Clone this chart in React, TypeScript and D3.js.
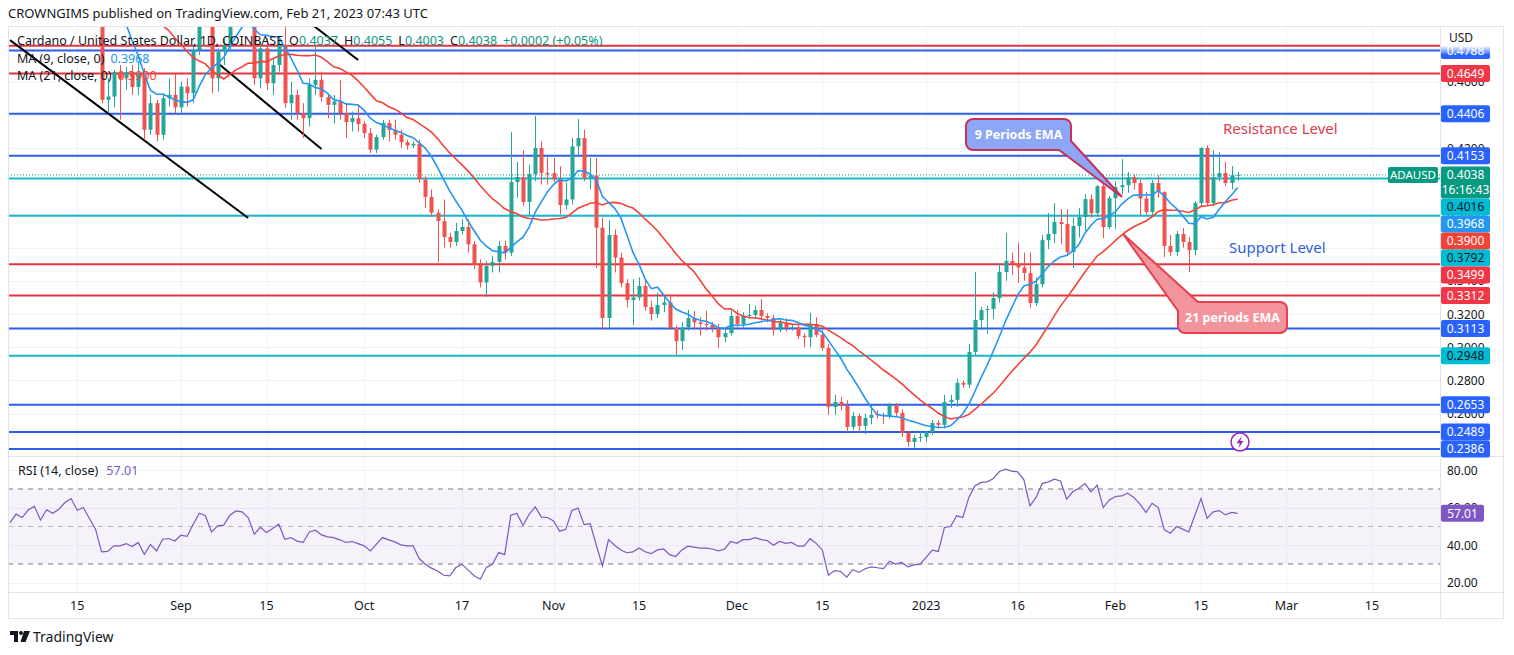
import * as d3 from 'd3';

const DAY = 86400000;
const FIRST_DAY = Date.UTC(2022, 7, 4);

// daily candles Aug 4 2022 .. Feb 21 2023 : [open, high, low, close]
const OHLC: [number, number, number, number][] = [
  // Aug
  [0.507, 0.515, 0.496, 0.503], [0.503, 0.525, 0.5, 0.518], [0.518, 0.522, 0.505, 0.508], [0.508, 0.52, 0.5, 0.513],
  [0.513, 0.545, 0.51, 0.53], [0.53, 0.535, 0.51, 0.515], [0.515, 0.545, 0.505, 0.54], [0.54, 0.56, 0.53, 0.535],
  [0.535, 0.55, 0.525, 0.545], [0.545, 0.565, 0.54, 0.555], [0.555, 0.575, 0.545, 0.55], [0.55, 0.565, 0.53, 0.545],
  [0.545, 0.56, 0.535, 0.548], [0.548, 0.56, 0.52, 0.53], [0.53, 0.54, 0.52, 0.535],
  [0.535, 0.537, 0.447, 0.449], [0.449, 0.462, 0.4416, 0.451], [0.451, 0.467, 0.4445, 0.4657], [0.4657, 0.47, 0.437, 0.462],
  [0.462, 0.469, 0.455, 0.4657], [0.4657, 0.47, 0.452, 0.4567], [0.4567, 0.472, 0.452, 0.465], [0.465, 0.468, 0.425, 0.431],
  [0.431, 0.452, 0.428, 0.447], [0.447, 0.449, 0.424, 0.428], [0.428, 0.453, 0.425, 0.45], [0.45, 0.462, 0.445, 0.452],
  [0.452, 0.465, 0.441, 0.4445],
  // Sep
  [0.4445, 0.46, 0.44, 0.457], [0.457, 0.462, 0.445, 0.453], [0.453, 0.482, 0.447, 0.479], [0.479, 0.51, 0.476, 0.505],
  [0.505, 0.52, 0.497, 0.51], [0.51, 0.515, 0.453, 0.462], [0.462, 0.48, 0.454, 0.478], [0.478, 0.486, 0.47, 0.482],
  [0.482, 0.51, 0.478, 0.505], [0.505, 0.52, 0.499, 0.51], [0.51, 0.518, 0.5, 0.505], [0.505, 0.515, 0.498, 0.51],
  [0.51, 0.514, 0.458, 0.462], [0.462, 0.484, 0.456, 0.48], [0.48, 0.486, 0.455, 0.459], [0.459, 0.474, 0.452, 0.47],
  [0.47, 0.486, 0.466, 0.482], [0.482, 0.497, 0.444, 0.447], [0.447, 0.46, 0.437, 0.452], [0.452, 0.455, 0.437, 0.441],
  [0.441, 0.447, 0.426, 0.438], [0.438, 0.462, 0.433, 0.458], [0.458, 0.482, 0.452, 0.461], [0.461, 0.466, 0.448, 0.4507],
  [0.4507, 0.452, 0.438, 0.446], [0.446, 0.452, 0.435, 0.448], [0.448, 0.461, 0.437, 0.441], [0.441, 0.447, 0.426, 0.4356],
  [0.4356, 0.442, 0.43, 0.438], [0.438, 0.446, 0.43, 0.4345],
  // Oct
  [0.4345, 0.436, 0.426, 0.429], [0.429, 0.432, 0.417, 0.419], [0.419, 0.428, 0.417, 0.4266], [0.4266, 0.437, 0.425, 0.435],
  [0.435, 0.437, 0.424, 0.431], [0.431, 0.437, 0.425, 0.428], [0.428, 0.431, 0.42, 0.4235], [0.4235, 0.425, 0.419, 0.4215],
  [0.4215, 0.424, 0.42, 0.4225], [0.4225, 0.425, 0.399, 0.401], [0.401, 0.403, 0.384, 0.3905], [0.3905, 0.395, 0.3785, 0.381],
  [0.381, 0.383, 0.351, 0.376], [0.376, 0.389, 0.36, 0.3664], [0.3664, 0.369, 0.36, 0.3634], [0.3634, 0.3748, 0.361, 0.37],
  [0.37, 0.377, 0.368, 0.3724], [0.3724, 0.377, 0.357, 0.362], [0.362, 0.364, 0.347, 0.3495], [0.3495, 0.353, 0.336, 0.339],
  [0.339, 0.352, 0.3302, 0.349], [0.349, 0.355, 0.345, 0.3514], [0.3514, 0.364, 0.345, 0.361], [0.361, 0.364, 0.353, 0.357],
  [0.357, 0.4296, 0.355, 0.3995], [0.3995, 0.4115, 0.39, 0.4025], [0.4025, 0.4187, 0.385, 0.3875], [0.3875, 0.41, 0.3796, 0.4043],
  [0.4043, 0.4393, 0.4, 0.42], [0.42, 0.424, 0.398, 0.405], [0.405, 0.4145, 0.398, 0.4049],
  // Nov
  [0.4049, 0.414, 0.3995, 0.401], [0.401, 0.409, 0.38, 0.3856], [0.3856, 0.399, 0.383, 0.389], [0.389, 0.426, 0.386, 0.421],
  [0.421, 0.4374, 0.416, 0.426], [0.426, 0.431, 0.4, 0.402], [0.402, 0.414, 0.395, 0.4035], [0.4035, 0.414, 0.3477, 0.372],
  [0.372, 0.378, 0.3104, 0.3176], [0.3176, 0.3766, 0.3116, 0.3676], [0.3676, 0.371, 0.345, 0.354], [0.354, 0.357, 0.336, 0.3386],
  [0.3386, 0.341, 0.324, 0.3284], [0.3284, 0.341, 0.3134, 0.33], [0.33, 0.342, 0.328, 0.3369], [0.3369, 0.3405, 0.322, 0.3242],
  [0.3242, 0.328, 0.316, 0.32], [0.32, 0.333, 0.3175, 0.3254], [0.3254, 0.331, 0.321, 0.327], [0.327, 0.331, 0.3104, 0.3116],
  [0.3116, 0.313, 0.2953, 0.3037], [0.3037, 0.315, 0.2983, 0.312], [0.312, 0.3225, 0.31, 0.3176], [0.3176, 0.322, 0.3105, 0.315],
  [0.315, 0.318, 0.307, 0.314], [0.314, 0.322, 0.31, 0.3134], [0.3134, 0.315, 0.309, 0.3116], [0.3116, 0.314, 0.2996, 0.306],
  [0.306, 0.311, 0.303, 0.3085], [0.3085, 0.322, 0.307, 0.3188],
  // Dec
  [0.3188, 0.3225, 0.312, 0.314], [0.314, 0.321, 0.312, 0.3188], [0.3188, 0.326, 0.317, 0.3194], [0.3194, 0.325, 0.317, 0.3224],
  [0.3224, 0.329, 0.316, 0.3188], [0.3188, 0.3205, 0.315, 0.3176], [0.3176, 0.3195, 0.307, 0.3104], [0.3104, 0.3165, 0.309, 0.3146],
  [0.3146, 0.3175, 0.3095, 0.3116], [0.3116, 0.3135, 0.31, 0.312], [0.312, 0.314, 0.305, 0.3067], [0.3067, 0.3085, 0.3, 0.306],
  [0.306, 0.3206, 0.3, 0.314], [0.314, 0.318, 0.306, 0.3074], [0.3074, 0.3104, 0.298, 0.2995], [0.2995, 0.302, 0.2592, 0.264],
  [0.264, 0.2713, 0.2592, 0.267], [0.267, 0.27, 0.262, 0.2646], [0.2646, 0.268, 0.2489, 0.252], [0.252, 0.261, 0.25, 0.2586],
  [0.2586, 0.26, 0.2483, 0.2526], [0.2526, 0.26, 0.2475, 0.2574], [0.2574, 0.2652, 0.2535, 0.2592], [0.2598, 0.262, 0.257, 0.259],
  [0.259, 0.2605, 0.2538, 0.2584], [0.2584, 0.2665, 0.257, 0.2652], [0.2652, 0.2664, 0.258, 0.2604], [0.2604, 0.2625, 0.246, 0.2483],
  [0.2483, 0.2495, 0.24, 0.2429], [0.2429, 0.247, 0.2393, 0.2453], [0.2453, 0.2495, 0.243, 0.2459],
  // Jan
  [0.2459, 0.2495, 0.243, 0.2489], [0.2489, 0.256, 0.247, 0.2544], [0.2544, 0.256, 0.251, 0.2532], [0.2532, 0.2713, 0.251, 0.267],
  [0.267, 0.2713, 0.2635, 0.2683], [0.2683, 0.281, 0.264, 0.2785], [0.2785, 0.28, 0.2755, 0.2774], [0.2774, 0.302, 0.2755, 0.2971],
  [0.2971, 0.3453, 0.295, 0.3164], [0.3164, 0.3242, 0.3104, 0.3224], [0.3224, 0.325, 0.308, 0.323], [0.323, 0.333, 0.317, 0.3296],
  [0.3296, 0.3507, 0.327, 0.3453], [0.3453, 0.3688, 0.34, 0.352], [0.352, 0.357, 0.3435, 0.3501], [0.3501, 0.363, 0.3387, 0.348],
  [0.348, 0.357, 0.34, 0.3447], [0.3447, 0.357, 0.3236, 0.3266], [0.3266, 0.342, 0.3248, 0.338], [0.338, 0.3676, 0.336, 0.3645],
  [0.3645, 0.3808, 0.359, 0.3682], [0.3682, 0.3868, 0.3628, 0.3754], [0.3754, 0.3832, 0.362, 0.3742], [0.3742, 0.383, 0.355, 0.3573],
  [0.3573, 0.378, 0.3477, 0.373], [0.373, 0.3838, 0.366, 0.3784], [0.3784, 0.3922, 0.37, 0.3892], [0.3892, 0.392, 0.378, 0.3808],
  [0.3808, 0.3977, 0.3785, 0.397], [0.397, 0.399, 0.3658, 0.3724], [0.3724, 0.391, 0.3712, 0.3898],
  // Feb
  [0.3898, 0.4, 0.3712, 0.3964], [0.3964, 0.4133, 0.392, 0.3976], [0.3976, 0.4055, 0.393, 0.4025], [0.4025, 0.404, 0.395, 0.3989],
  [0.3989, 0.401, 0.3796, 0.3895], [0.3895, 0.3937, 0.38, 0.3814], [0.3814, 0.4005, 0.379, 0.3989], [0.3989, 0.4037, 0.39, 0.3934],
  [0.3934, 0.394, 0.3543, 0.361], [0.361, 0.3676, 0.355, 0.3573], [0.3573, 0.37, 0.355, 0.3682], [0.3682, 0.3718, 0.36, 0.3634],
  [0.3634, 0.3665, 0.3453, 0.3585], [0.3585, 0.388, 0.3555, 0.3868], [0.3868, 0.4205, 0.385, 0.42], [0.42, 0.4217, 0.385, 0.3868],
  [0.3868, 0.4186, 0.385, 0.4025], [0.4025, 0.4175, 0.4, 0.4049], [0.4049, 0.4115, 0.397, 0.3989], [0.3989, 0.4091, 0.395, 0.4036],
  [0.4037, 0.4055, 0.4003, 0.4038],
];

const RSI14 = [
  52.1, 56.6, 54.8, 58.9, 60.7, 53.5, 58.9, 57.1, 59.2, 62.8, 64.9, 58.7, 60.1, 54.3, 48.6,
  36.5, 36.7, 39.7, 39.7, 40.9, 39.3, 41.5, 35.2, 40.4, 37.0, 43.2, 43.6, 42.3,
  45.4, 44.7, 51.2, 57.1, 55.7, 47.1, 50.3, 50.7, 56.0, 58.3, 57.8, 54.8, 45.9, 49.6, 46.8,
  48.9, 51.2, 43.2, 44.1, 42.2, 41.5, 47.1, 48.0, 45.5, 44.5, 44.1, 42.9, 41.5, 42.0, 40.9,
  39.7, 37.0, 40.6, 44.1, 42.9, 41.8, 40.2, 39.7, 39.7, 32.9, 29.9, 27.8, 26.3, 24.0, 23.7, 28.1,
  29.9, 26.7, 23.7, 21.9, 28.1, 29.9, 36.1, 35.0, 56.0, 57.0, 50.5, 56.5, 60.5, 55.0, 54.8,
  53.0, 47.5, 48.5, 58.5, 59.8, 51.0, 51.5, 40.0, 29.0, 43.0, 40.0, 37.5, 36.0, 36.5, 38.5,
  36.5, 35.5, 37.5, 38.0, 35.0, 34.0, 37.5, 39.5, 39.0, 38.5, 38.5, 38.0, 37.0, 38.0, 42.0,
  41.0, 43.0, 43.0, 44.0, 43.0, 42.5, 40.0, 42.0, 41.0, 41.5, 39.5, 39.5, 43.5, 41.0, 37.5, 24.0,
  26.5, 26.0, 23.0, 27.0, 25.5, 27.5, 28.5, 28.0, 27.5, 31.5, 30.0, 30.8, 28.5, 29.5, 29.9,
  33.5, 37.4, 36.7, 49.5, 50.0, 55.7, 54.8, 65.5, 71.7, 73.5, 73.8, 75.6, 79.3, 80.6, 79.5, 79.1,
  74.9, 61.0, 65.5, 72.9, 73.8, 75.2, 74.3, 64.6, 68.5, 70.4, 72.9, 68.5, 72.0, 60.1, 64.2,
  66.0, 66.3, 67.8, 65.5, 61.9, 57.5, 62.4, 60.1, 48.2, 46.4, 50.0, 48.6, 47.1, 56.0, 64.9,
  54.3, 57.8, 58.5, 56.2, 57.5, 57.0,
];

const RED_LEVELS = [0.4816, 0.4649, 0.3499, 0.3312];
const BLUE_LEVELS = [0.4788, 0.4406, 0.4153, 0.3113, 0.2653, 0.2489, 0.2386];
const CYAN_LEVELS = [0.4016, 0.3792, 0.2948];

const PRICE_TICKS = [0.26, 0.28, 0.3, 0.32, 0.34, 0.36, 0.38, 0.4, 0.42, 0.44, 0.46, 0.48];
const RSI_TICKS = [20, 40, 60, 80];

const TIME_TICKS: [number, string][] = [
  [Date.UTC(2022, 7, 15), '15'], [Date.UTC(2022, 8, 1), 'Sep'], [Date.UTC(2022, 8, 15), '15'],
  [Date.UTC(2022, 9, 1), 'Oct'], [Date.UTC(2022, 9, 17), '17'], [Date.UTC(2022, 10, 1), 'Nov'],
  [Date.UTC(2022, 10, 15), '15'], [Date.UTC(2022, 11, 1), 'Dec'], [Date.UTC(2022, 11, 15), '15'],
  [Date.UTC(2023, 0, 1), '2023'], [Date.UTC(2023, 0, 16), '16'], [Date.UTC(2023, 1, 1), 'Feb'],
  [Date.UTC(2023, 1, 15), '15'], [Date.UTC(2023, 2, 1), 'Mar'], [Date.UTC(2023, 2, 15), '15'],
];

// hand-drawn trend lines: [date, price] -> [date, price]
const TREND_LINES: [number, number][][] = [
  [[Date.UTC(2022, 7, 4), 0.485], [Date.UTC(2022, 8, 12), 0.3778]],
  [[Date.UTC(2022, 8, 7), 0.4712], [Date.UTC(2022, 8, 24), 0.4194]],
  [[Date.UTC(2022, 8, 21), 0.4985], [Date.UTC(2022, 8, 30), 0.473]],
];

const AXIS_TAGS = [
  { value: 0.4788, text: '0.4788', bg: '#2962ff', fg: '#ffffff' },
  { value: 0.4649, text: '0.4649', bg: '#f23645', fg: '#ffffff' },
  { value: 0.4406, text: '0.4406', bg: '#2962ff', fg: '#ffffff' },
  { value: 0.4153, text: '0.4153', bg: '#2962ff', fg: '#ffffff' },
  { value: 0.4038, text: '0.4038', sub: '16:16:43', bg: '#089981', fg: '#ffffff' },
  { value: 0.4016, text: '0.4016', bg: '#00bcd4', fg: '#131722' },
  { value: 0.3968, text: '0.3968', bg: '#2196f3', fg: '#ffffff' },
  { value: 0.39, text: '0.3900', bg: '#f44336', fg: '#ffffff' },
  { value: 0.3792, text: '0.3792', bg: '#00bcd4', fg: '#131722' },
  { value: 0.3499, text: '0.3499', bg: '#f23645', fg: '#ffffff' },
  { value: 0.3312, text: '0.3312', bg: '#f23645', fg: '#ffffff' },
  { value: 0.3113, text: '0.3113', bg: '#2962ff', fg: '#ffffff' },
  { value: 0.2948, text: '0.2948', bg: '#00bcd4', fg: '#131722' },
  { value: 0.2653, text: '0.2653', bg: '#2962ff', fg: '#ffffff' },
  { value: 0.2489, text: '0.2489', bg: '#2962ff', fg: '#ffffff' },
  { value: 0.2386, text: '0.2386', bg: '#2962ff', fg: '#ffffff' },
];

const FONT = "'Noto Sans', 'Open Sans', sans-serif";
const UP = '#26a69a';
const DOWN = '#ef5350';
const TEXT = '#131722';

function sma(values: number[], n: number) {
  return values.map((_, i) => (i < n - 1 ? null : d3.mean(values.slice(i - n + 1, i + 1)) as number));
}

export default function App() {
  const W = 1514;
  const H = 655;
  const left = 8, right = 1440, top = 27, mainBottom = 456, rsiTop = 457, rsiBottom = 592;

  const dates = OHLC.map((_, i) => new Date(FIRST_DAY + i * DAY));
  const x = d3.scaleUtc()
    .domain([new Date(Date.UTC(2022, 8, 1)), new Date(Date.UTC(2023, 2, 15))])
    .range([181, 1372]);
  const y = d3.scaleLinear().domain([0.32, 0.42]).range([314, 148]);
  const ry = d3.scaleLinear().domain([30, 70]).range([564, 489]);

  const closes = OHLC.map(d => d[3]);
  const ma9 = sma(closes, 9);
  const ma21 = sma(closes, 21);

  const maLine = d3.line<number | null>()
    .defined(d => d != null)
    .x((_, i) => x(dates[i]))
    .y(d => y(d as number));
  const rsiLine = d3.line<number>().x((_, i) => x(dates[i])).y(d => ry(d));

  // price tags pushed down so they don't overlap
  let prevBottom = -Infinity;
  const tags = [...AXIS_TAGS].sort((a, b) => b.value - a.value).map(t => {
    const h = t.sub ? 32 : 17;
    const t0 = Math.max(y(t.value) - 8.5, prevBottom);
    prevBottom = t0 + h;
    return { ...t, top: t0, h };
  });
  // tick labels that sit fully behind a tag are not drawn
  const visibleTicks = PRICE_TICKS.filter(v => {
    const yy = y(v);
    if (yy < 50) return false;
    return !tags.some(t => yy - 5 >= t.top && yy + 5 <= t.top + t.h);
  });

  const last = OHLC[OHLC.length - 1][3];

  // callout with a pointer wedge on the bottom-right corner
  const x0a = 966, y0a = 119, x1a = 1071, y1a = 150, r = 7;
  const call9 = `M${x0a + r},${y0a} H${x1a - r} A${r},${r} 0 0 1 ${x1a},${y0a + r} V${y1a - 9} L1122,197 L${x1a - 12},${y1a} H${x0a + r} A${r},${r} 0 0 1 ${x0a},${y1a - r} V${y0a + r} A${r},${r} 0 0 1 ${x0a + r},${y0a} Z`;
  const x0b = 1178, y0b = 302, x1b = 1287, y1b = 333;
  const call21 = `M${x0b},${y0b + 9} L1123,234 L${x0b + 20},${y0b} H${x1b - r} A${r},${r} 0 0 1 ${x1b},${y0b + r} V${y1b - r} A${r},${r} 0 0 1 ${x1b - r},${y1b} H${x0b + r} A${r},${r} 0 0 1 ${x0b},${y1b - r} Z`;

  const levelLines = [
    ...RED_LEVELS.map(v => ({ v, c: '#e5343f' })),
    ...BLUE_LEVELS.map(v => ({ v, c: '#2c5ee6' })),
    ...CYAN_LEVELS.map(v => ({ v, c: '#19b7c8' })),
  ];

  return (
    <svg width={W} height={H} style={{ position: 'fixed', left: 0, top: 0, background: '#fff' }} fontFamily={FONT}>
      <defs>
        <clipPath id="main"><rect x={left} y={top} width={right - left} height={mainBottom - top} /></clipPath>
        <clipPath id="rsi"><rect x={left} y={rsiTop} width={right - left} height={rsiBottom - rsiTop} /></clipPath>
        <linearGradient id="fade" x1="0" x2="0" y1="0" y2="1">
          <stop offset="0" stopColor="#fff" stopOpacity="0.95" />
          <stop offset="1" stopColor="#fff" stopOpacity="0.15" />
        </linearGradient>
      </defs>
      <rect width={W} height={H} fill="#fff" />

      <text x={8} y={18} fontSize={13} fill={TEXT}>CROWNGIMS published on TradingView.com, Feb 21, 2023 07:43 UTC</text>

      {/* grid */}
      <g stroke="#f0f3fa" strokeWidth={1}>
        {TIME_TICKS.map(([t]) => (
          <line key={t} x1={Math.round(x(new Date(t))) + 0.5} x2={Math.round(x(new Date(t))) + 0.5} y1={top} y2={rsiBottom} />
        ))}
        {PRICE_TICKS.map(v => (
          <line key={v} x1={left} x2={right} y1={Math.round(y(v)) + 0.5} y2={Math.round(y(v)) + 0.5} />
        ))}
        {RSI_TICKS.map(v => (
          <line key={v} x1={left} x2={right} y1={Math.round(ry(v)) + 0.5} y2={Math.round(ry(v)) + 0.5} />
        ))}
      </g>

      {/* main pane */}
      <g clipPath="url(#main)">
        {levelLines.map(({ v, c }) => (
          <line key={v} x1={left} x2={right} y1={y(v)} y2={y(v)} stroke={c} strokeWidth={2} />
        ))}
        <line x1={left} x2={right} y1={y(last)} y2={y(last)} stroke="#089981" strokeWidth={1} strokeDasharray="1 2" />
        {TREND_LINES.map((seg, i) => (
          <line key={i} x1={x(new Date(seg[0][0]))} y1={y(seg[0][1])} x2={x(new Date(seg[1][0]))} y2={y(seg[1][1])}
            stroke="#000" strokeWidth={2} />
        ))}
        {OHLC.map(([o, h, l, c], i) => {
          const cx = Math.round(x(dates[i]));
          const col = c >= o ? UP : DOWN;
          const yt = y(Math.max(o, c));
          const hb = Math.max(1, Math.abs(y(o) - y(c)));
          return (
            <g key={i}>
              <line x1={cx + 0.5} x2={cx + 0.5} y1={y(h)} y2={y(l)} stroke={col} strokeWidth={1} />
              <rect x={cx - 1.5} y={yt} width={4} height={hb} fill={col} />
            </g>
          );
        })}
        <path d={maLine(ma21) ?? ''} fill="none" stroke="#f44336" strokeWidth={1.6} />
        <path d={maLine(ma9) ?? ''} fill="none" stroke="#2196f3" strokeWidth={1.6} />

        <path d={call9} fill="#8ea6f6" stroke="#c9305a" strokeWidth={2} />
        <text x={(x0a + x1a) / 2} y={139} textAnchor="middle" fontSize={12.5} fontWeight="bold" fill="#fff">9 Periods EMA</text>
        <path d={call21} fill="#f3949c" stroke="#e5404f" strokeWidth={2} />
        <text x={(x0b + x1b) / 2} y={322} textAnchor="middle" fontSize={12.5} fontWeight="bold" fill="#fff">21 periods EMA</text>

        <text x={1223} y={134} fontSize={15} fill="#e23a4d">Resistance Level</text>
        <text x={1229} y={253} fontSize={15} fill="#2f5fe0">Support Level</text>

        <circle cx={1240} cy={442} r={9} fill="#fff" stroke="#9c27b0" strokeWidth={1.5} />
        <path d="M1241.8,436 L1236.5,443.2 H1239.8 L1238.3,448.2 L1243.6,441 H1240.3 Z" fill="#9c27b0" />
      </g>

      {/* legend */}
      <text x={17} y={45} fontSize={12.5} fill={TEXT}>
        Cardano / United States Dollar, 1D, COINBASE
        <tspan dx={6}>O</tspan><tspan fill="#089981">0.4037</tspan>
        <tspan dx={6}>H</tspan><tspan fill="#089981">0.4055</tspan>
        <tspan dx={6}>L</tspan><tspan fill="#089981">0.4003</tspan>
        <tspan dx={6}>C</tspan><tspan fill="#089981">0.4038</tspan>
        <tspan dx={6} fill="#089981">+0.0002 (+0.05%)</tspan>
      </text>
      <text x={17} y={63} fontSize={12.5} fill={TEXT}>
        MA (9, close, 0)<tspan dx={6} fill="#2196f3">0.3968</tspan>
      </text>
      <text x={17} y={80} fontSize={12.5} fill={TEXT}>
        MA (21, close, 0)<tspan dx={6} fill="#f44336">0.3900</tspan>
      </text>

      {/* RSI pane */}
      <rect x={left} y={ry(70)} width={right - left} height={ry(30) - ry(70)} fill="#7e57c2" fillOpacity={0.08} />
      <line x1={left} x2={right} y1={ry(70)} y2={ry(70)} stroke="#787b86" strokeDasharray="5 5" />
      <line x1={left} x2={right} y1={ry(50)} y2={ry(50)} stroke="#787b86" strokeOpacity={0.5} strokeDasharray="5 5" />
      <line x1={left} x2={right} y1={ry(30)} y2={ry(30)} stroke="#787b86" strokeDasharray="5 5" />
      <g clipPath="url(#rsi)">
        <path d={rsiLine(RSI14) ?? ''} fill="none" stroke="#7e57c2" strokeWidth={1.2} />
      </g>
      <text x={18} y={475} fontSize={12.5} fill={TEXT}>
        RSI (14, close)<tspan dx={8} fill="#7e57c2">57.01</tspan>
      </text>

      {/* frame and separators */}
      <g stroke="#e0e3eb" fill="none">
        <rect x={8.5} y={26.5} width={1495} height={592} />
        <line x1={8} x2={1503} y1={mainBottom + 0.5} y2={mainBottom + 0.5} />
        <line x1={8} x2={1503} y1={rsiBottom + 0.5} y2={rsiBottom + 0.5} />
        <line x1={right + 0.5} x2={right + 0.5} y1={26} y2={619} />
      </g>

      {/* price axis */}
      {visibleTicks.map(v => (
        <text key={v} x={1447} y={y(v) + 4.5} fontSize={12} fill={TEXT}>{v.toFixed(4)}</text>
      ))}
      {tags.map(t => (
        <g key={t.text}>
          <rect x={1441} y={t.top} width={49} height={t.h} rx={2} fill={t.bg} />
          <text x={1465.5} y={t.top + 12.8} textAnchor="middle" fontSize={12} fill={t.fg}>{t.text}</text>
          {t.sub && <text x={1465.5} y={t.top + 28} textAnchor="middle" fontSize={12} fill={t.fg}>{t.sub}</text>}
        </g>
      ))}
      <rect x={1441} y={27} width={62} height={19} fill="#fff" />
      <rect x={1441} y={46} width={62} height={8} fill="url(#fade)" />
      <text x={1449} y={42} fontSize={12} fill={TEXT}>USD</text>

      <rect x={1388} y={y(last) - 8} width={50} height={16} rx={2} fill="#089981" />
      <text x={1413} y={y(last) + 4} textAnchor="middle" fontSize={11.5} fill="#fff">ADAUSD</text>

      {/* RSI axis */}
      {RSI_TICKS.map(v => (
        <text key={v} x={1447} y={ry(v) + 4.5} fontSize={12} fill={TEXT}>{v.toFixed(2)}</text>
      ))}
      <rect x={1441} y={ry(57.01) - 8.5} width={43} height={17} rx={2} fill="#7e57c2" />
      <text x={1462.5} y={ry(57.01) + 4.3} textAnchor="middle" fontSize={12} fill="#fff">57.01</text>

      {/* time axis */}
      {TIME_TICKS.map(([t, label]) => (
        <text key={t} x={x(new Date(t))} y={610} textAnchor="middle" fontSize={12.5} fill={TEXT}>{label}</text>
      ))}

      {/* footer logo */}
      <g fill={TEXT}>
        <rect x={10} y={631} width={8} height={4} />
        <rect x={14} y={631} width={4} height={11} />
        <circle cx={21} cy={633} r={2} />
        <polygon points="24,631 30,631 25.5,642 20.5,642" />
      </g>
      <text x={33} y={642} fontSize={14} fill={TEXT}>TradingView</text>
    </svg>
  );
}
